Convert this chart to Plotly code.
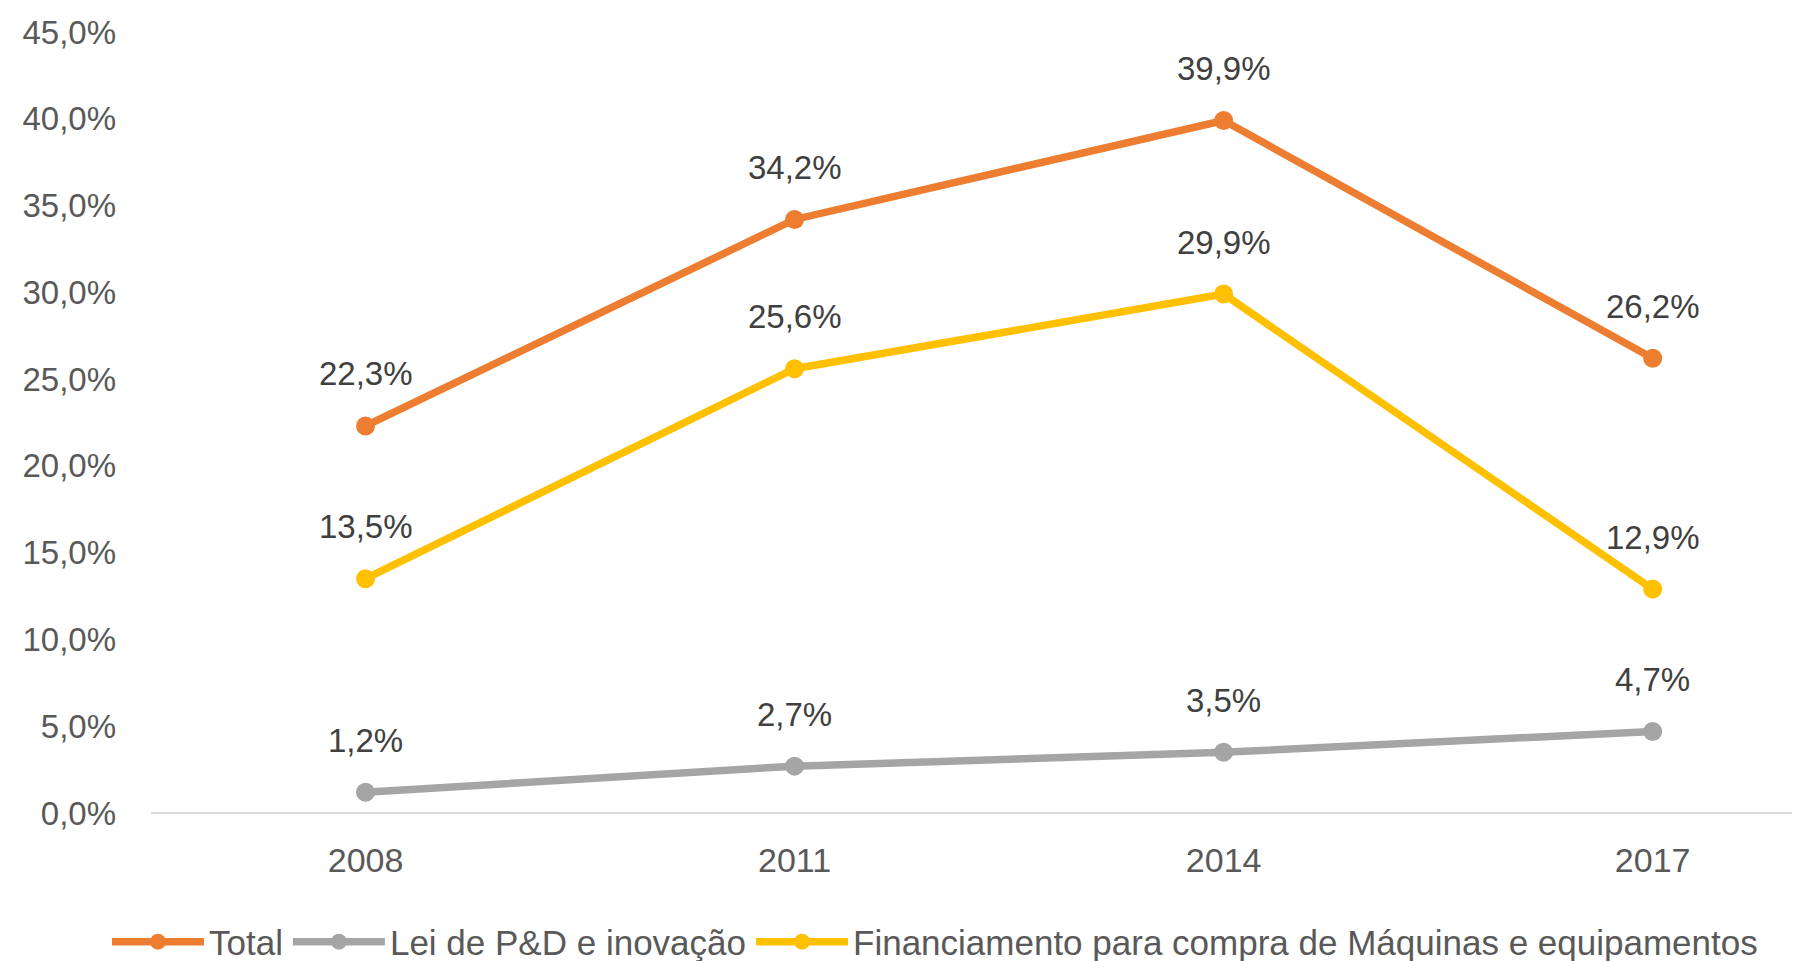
import plotly.graph_objects as go

years = ["2008", "2011", "2014", "2017"]
total = [22.3, 34.2, 39.9, 26.2]
lei = [1.2, 2.7, 3.5, 4.7]
fin = [13.5, 25.6, 29.9, 12.9]
y_ticks = [0, 5, 10, 15, 20, 25, 30, 35, 40, 45]

series = [
    ("Total", total, "#ED7D31"),
    ("Lei de P&D e inovação", lei, "#A5A5A5"),
    ("Financiamento para compra de Máquinas e equipamentos", fin, "#FFC000"),
]

xs = list(range(len(years)))
fig = go.Figure()
annotations = []
for name, vals, color in series:
    fig.add_trace(go.Scatter(
        x=xs, y=vals, name=name, mode="lines+markers",
        line=dict(color=color, width=7.5),
        marker=dict(color=color, size=19),
        hoverinfo="skip",
    ))
    for x, v in zip(xs, vals):
        annotations.append(dict(
            x=x, y=v, text=f"{v:.1f}%".replace(".", ","), showarrow=False,
            yshift=52, font=dict(size=33, color="#404040"),
        ))

fig.update_layout(
    width=1800, height=953,
    margin=dict(l=143, r=0, t=24, b=148, autoexpand=False),
    plot_bgcolor="white", paper_bgcolor="white",
    font=dict(family="Liberation Sans, Arial, sans-serif", color="#595959"),
    annotations=annotations,
    showlegend=True,
    legend=dict(
        orientation="h", xref="container", yref="container",
        x=0.055, y=0.02, xanchor="left", yanchor="middle",
        font=dict(size=35, color="#595959"), itemwidth=92,
        traceorder="normal", bgcolor="rgba(0,0,0,0)",
    ),
)
fig.update_xaxes(
    range=[-0.5, 3.362], tickvals=xs, ticktext=years, automargin=False,
    showgrid=False, zeroline=False, showline=False,
    ticks="", ticklabelstandoff=24, tickfont=dict(size=34, color="#595959"),
)
fig.update_yaxes(
    range=[0, 45], tickvals=y_ticks, automargin=False,
    ticktext=[f"{t:.1f}%".replace(".", ",") for t in y_ticks],
    showgrid=False, zeroline=True, zerolinecolor="#D9D9D9", zerolinewidth=2,
    showline=False, ticks="", ticklabelstandoff=34,
    tickfont=dict(size=33, color="#595959"),
)
fig.write_html("out.html")
